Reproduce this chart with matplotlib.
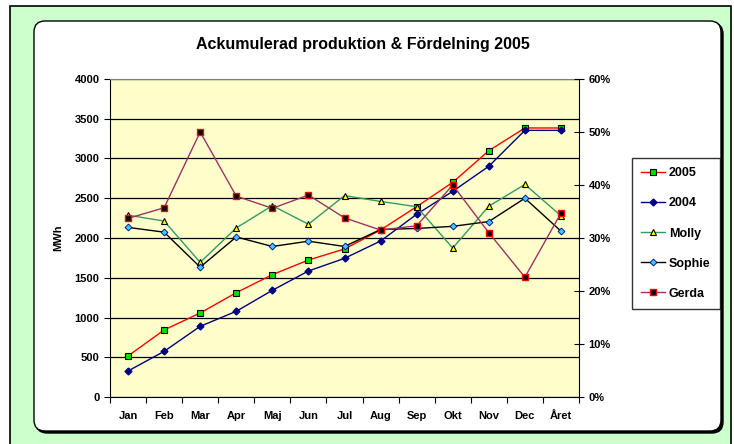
"""Ackumulerad produktion & Fördelning 2005 - line chart with two y axes."""
import matplotlib
matplotlib.use("Agg")
import matplotlib.pyplot as plt
from matplotlib.patches import FancyBboxPatch, Rectangle
from matplotlib.ticker import FuncFormatter, MultipleLocator

plt.rcParams["font.family"] = ["Liberation Sans", "DejaVu Sans"]
plt.rcParams["font.weight"] = "bold"

MONTHS = ["Jan", "Feb", "Mar", "Apr", "Maj", "Jun", "Jul", "Aug", "Sep", "Okt", "Nov", "Dec", "Året"]
PROD_2005 = [516, 843, 1057, 1312, 1539, 1723, 1862, 2101, 2394, 2700, 3098, 3384, 3384]
PROD_2004 = [327, 574, 889, 1078, 1342, 1585, 1744, 1962, 2298, 2587, 2902, 3354, 3354]
MOLLY = [34.3, 33.2, 25.4, 31.9, 36.1, 32.6, 38.0, 36.9, 35.9, 28.1, 36.0, 40.1, 34.2]
SOPHIE = [32.0, 31.1, 24.5, 30.2, 28.4, 29.4, 28.4, 31.6, 31.8, 32.2, 33.1, 37.5, 31.3]
GERDA = [33.7, 35.7, 50.0, 37.9, 35.6, 38.1, 33.8, 31.5, 32.3, 40.0, 31.0, 22.6, 34.7]

W, H = 734, 444
fig = plt.figure(figsize=(W / 100, H / 100), dpi=100)
fig.patch.set_facecolor("white")

# outer green frame and the white rounded chart area with a shadow
fig.patches.append(Rectangle((10, -5), 721, H - 6 + 5, transform=None,
                             facecolor="#ccffcc", edgecolor="black", linewidth=1.2, zorder=0))
fig.patches.append(FancyBboxPatch((36, 11), 687, 410, boxstyle="round,pad=0,rounding_size=11",
                                  transform=None, facecolor="black", edgecolor="black",
                                  linewidth=1, zorder=1))
fig.patches.append(FancyBboxPatch((34, 13), 687, 410, boxstyle="round,pad=0,rounding_size=11",
                                  transform=None, facecolor="white", edgecolor="black",
                                  linewidth=1, zorder=2))

ax = fig.add_axes([110 / W, (H - 397) / H, 469 / W, 318 / H])
ax.set_zorder(3)
ax.set_facecolor("#ffffcc")
x = list(range(len(MONTHS)))

l05, = ax.plot(x, PROD_2005, color="#ff0000", linewidth=1, marker="s", markersize=5,
               markerfacecolor="#00e000", markeredgecolor="black", markeredgewidth=0.8, label="2005")
l04, = ax.plot(x, PROD_2004, color="#000080", linewidth=1, marker="D", markersize=3.5,
               markerfacecolor="#000080", markeredgecolor="#000080", label="2004")
ax.set_xlim(-0.5, len(MONTHS) - 0.5)
ax.set_ylim(0, 4000)
ax.yaxis.set_major_locator(MultipleLocator(500))
ax.set_xticks([i - 0.5 for i in range(len(MONTHS) + 1)], minor=False)
ax.set_xticklabels([])
ax.set_xticks(x, minor=True)
ax.set_xticklabels(MONTHS, minor=True, fontsize=8, fontweight="bold")
ax.tick_params(axis="x", which="minor", length=0, pad=10)
ax.tick_params(axis="x", which="major", length=4, direction="out")
ax.tick_params(axis="y", labelsize=8, length=4, direction="out")
for t in ax.get_yticklabels():
    t.set_fontweight("bold")
ax.grid(axis="y", color="black", linewidth=0.9)
ax.set_axisbelow(True)
ax.set_ylabel("MWh", fontsize=8, fontweight="bold", labelpad=8)
ax.spines["top"].set_color("#808080")
ax.spines["right"].set_visible(False)

ax2 = ax.twinx()
ax2.set_zorder(4)
ax2.patch.set_visible(False)
lm, = ax2.plot(x, MOLLY, color="#339966", linewidth=1, marker="^", markersize=5,
               markerfacecolor="#ffff00", markeredgecolor="black", markeredgewidth=0.8, label="Molly")
ls, = ax2.plot(x, SOPHIE, color="black", linewidth=1, marker="D", markersize=3.5,
               markerfacecolor="#33ccff", markeredgecolor="#000080", markeredgewidth=0.6, label="Sophie")
lg, = ax2.plot(x, GERDA, color="#993366", linewidth=1, marker="s", markersize=5,
               markerfacecolor="black", markeredgecolor="#ff0000", markeredgewidth=1.0, label="Gerda")
ax2.set_ylim(0, 60)
ax2.yaxis.set_major_locator(MultipleLocator(10))
ax2.yaxis.set_major_formatter(FuncFormatter(lambda v, _: f"{v:.0f}%"))
ax2.tick_params(axis="y", labelsize=8, length=7, direction="inout")
for t in ax2.get_yticklabels():
    t.set_fontweight("bold")
ax2.spines["top"].set_visible(False)
ax2.spines["left"].set_visible(False)
ax2.spines["bottom"].set_visible(False)

fig.text(363 / W, 1 - 45 / H, "Ackumulerad produktion & Fördelning 2005",
         ha="center", va="center", fontsize=11.5, fontweight="bold")

leg = fig.legend(handles=[l05, l04, lm, ls, lg], loc="upper left",
                 bbox_to_anchor=(632 / W, 1 - 158 / H), frameon=True, fancybox=False,
                 edgecolor="black", prop={"weight": "bold", "size": 9},
                 handlelength=1.9, handletextpad=0.3, labelspacing=1.45,
                 borderpad=0.75, borderaxespad=0)
leg.set_zorder(6)
leg.get_frame().set_linewidth(1)

fig.savefig("out.png", dpi=100)
